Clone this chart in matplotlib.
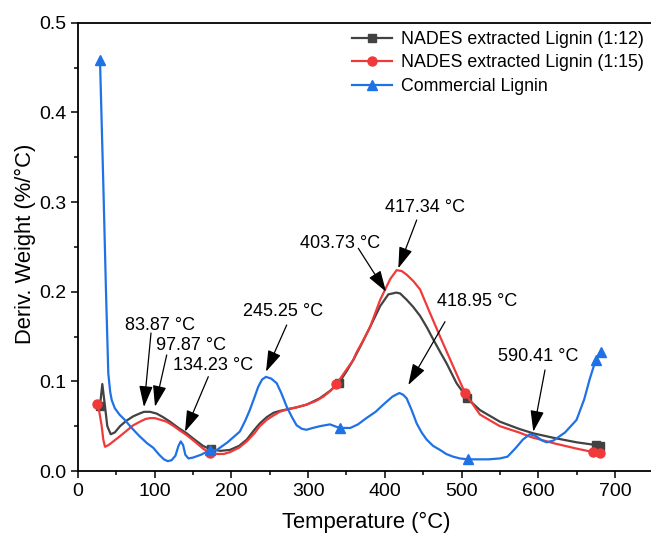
import numpy as np
import matplotlib
matplotlib.use("Agg")
import matplotlib.pyplot as plt

plt.rcParams['font.family'] = ['Liberation Sans', 'DejaVu Sans']

# ---------------- data ----------------
x_l12 = [28.7, 31.7, 35.2, 38.2, 42.6, 48, 54.8, 63, 72, 80, 86, 94, 102.6, 111, 120, 131, 141.7,
         152, 163, 173, 186, 198, 210, 220, 230, 237, 246, 255, 263, 274, 285, 298, 315, 328,
         340, 350, 359, 370, 381, 394, 404.6, 410, 415, 420, 428.5, 437, 446, 455, 463, 472,
         480.6, 493.5, 507.6, 524, 550, 575, 593.6, 620, 650, 675, 681]
y_l12 = [0.073, 0.097, 0.072, 0.050, 0.041, 0.043, 0.050, 0.056, 0.061, 0.064, 0.066, 0.066, 0.064,
         0.060, 0.055, 0.048, 0.042, 0.035, 0.028, 0.024, 0.0225, 0.0235, 0.028, 0.035, 0.046,
         0.053, 0.060, 0.065, 0.067, 0.069, 0.071, 0.074, 0.081, 0.089, 0.098, 0.111, 0.124,
         0.142, 0.161, 0.184, 0.197, 0.198, 0.199, 0.198, 0.191, 0.183, 0.173, 0.160, 0.147,
         0.133, 0.120, 0.098, 0.081, 0.068, 0.055, 0.047, 0.042, 0.037, 0.032, 0.029, 0.028]

x_l15 = [24.4, 28, 30.9, 33, 35.2, 40, 46, 55, 63.5, 72, 80.8, 88, 94, 100, 108, 115.6, 125, 133,
         141.7, 152, 163, 172, 180, 190, 198, 210, 220, 230, 237, 246, 255, 263, 274, 285, 298,
         310, 320, 330, 337, 350, 359, 363, 372, 381, 394, 407, 415.5, 422, 428.5, 437, 446,
         459, 472, 489, 504.6, 524, 550, 575, 590, 620, 650, 672, 680.6]
y_l15 = [0.075, 0.065, 0.050, 0.035, 0.027, 0.029, 0.033, 0.039, 0.045, 0.051, 0.055, 0.058, 0.059,
         0.059, 0.057, 0.055, 0.050, 0.045, 0.040, 0.033, 0.025, 0.020, 0.019, 0.019, 0.021,
         0.026, 0.033, 0.042, 0.050, 0.057, 0.062, 0.066, 0.069, 0.071, 0.074, 0.078, 0.083,
         0.090, 0.097, 0.113, 0.124, 0.132, 0.146, 0.161, 0.191, 0.214, 0.224, 0.223, 0.219,
         0.212, 0.2025, 0.176, 0.150, 0.117, 0.087, 0.063, 0.050, 0.043, 0.038, 0.031, 0.025,
         0.021, 0.020]

x_com = [28.7, 33, 36.5, 39.5, 42, 44, 48, 54, 61, 70, 80, 90, 98, 106, 112, 117, 122, 127, 131,
         134, 137, 140, 144, 150, 160, 172, 181, 195, 211, 218, 224, 230, 235, 240, 245, 252, 259,
         265, 272, 279, 285, 292, 298, 306, 315.5, 328.5, 341, 355, 365, 376, 388, 398, 410, 419,
         424, 428.5, 435, 441.6, 448, 454.6, 463, 472, 480, 489, 498, 508, 520, 535, 550, 560,
         570, 580, 589, 597, 605, 611, 620, 635, 650, 660, 667, 675, 681.5]
y_com = [0.458, 0.320, 0.200, 0.109, 0.088, 0.079, 0.070, 0.063, 0.057, 0.048, 0.039, 0.031, 0.026,
         0.018, 0.013, 0.011, 0.012, 0.017, 0.028, 0.033, 0.029, 0.018, 0.014, 0.015, 0.018,
         0.023, 0.0235, 0.032, 0.044, 0.056, 0.068, 0.082, 0.094, 0.102, 0.105, 0.103, 0.098,
         0.087, 0.072, 0.060, 0.051, 0.047, 0.046, 0.048, 0.050, 0.052, 0.048, 0.048, 0.052,
         0.059, 0.066, 0.074, 0.083, 0.087, 0.085, 0.081, 0.068, 0.053, 0.043, 0.035, 0.028,
         0.0235, 0.019, 0.016, 0.014, 0.013, 0.013, 0.013, 0.014, 0.016, 0.025, 0.035, 0.041,
         0.039, 0.034, 0.032, 0.034, 0.043, 0.057, 0.080, 0.102, 0.124, 0.133]

marks_l12 = [28.7, 173, 340, 507.6, 675, 681]
marks_l15 = [24.4, 172, 337, 504.6, 672, 680.6]
marks_com = [28.7, 172, 341, 508, 675, 681.5]

labels = ["NADES extracted Lignin (1:12)", "NADES extracted Lignin (1:15)", "Commercial Lignin"]

ann_text = ["83.87 °C", "97.87 °C", "134.23 °C", "245.25 °C",
            "403.73 °C", "417.34 °C", "418.95 °C", "590.41 °C"]

# ---------------- figure ----------------
W, H = 651, 535
fig = plt.figure(figsize=(W / 100, H / 100), dpi=100)
ax_left, ax_right, ax_top, ax_bot = 78, 660, 22.7, 471
ax = fig.add_axes([ax_left / W, (H - ax_bot) / H, (ax_right - ax_left) / W, (ax_bot - ax_top) / H])

def idx(xs, marks):
    xs = np.asarray(xs)
    return [int(np.argmin(np.abs(xs - m))) for m in marks]

c_gray, c_red, c_blue = '#424242', '#f03a3a', '#1f72e6'
ax.plot(x_l12, y_l12, color=c_gray, lw=1.6, marker='s', ms=6, markevery=idx(x_l12, marks_l12),
        label=labels[0], zorder=3)
ax.plot(x_l15, y_l15, color=c_red, lw=1.6, marker='o', ms=6.5, markevery=idx(x_l15, marks_l15),
        label=labels[1], zorder=4)
ax.plot(x_com, y_com, color=c_blue, lw=1.6, marker='^', ms=7, markevery=idx(x_com, marks_com),
        label=labels[2], zorder=5)

ax.set_xlim(0, (ax_right - ax_left) / 0.767)
ax.set_ylim(0, 0.5)
ax.set_xticks(np.arange(0, 701, 100))
ax.set_xticks(np.arange(50, 751, 100), minor=True)
ax.set_yticks(np.arange(0, 0.51, 0.1))
ax.set_yticks(np.arange(0.05, 0.5, 0.1), minor=True)
ax.yaxis.set_major_formatter(matplotlib.ticker.FormatStrFormatter('%.1f'))
ax.tick_params(which='major', direction='out', length=5, width=1.1, labelsize=14, colors='black')
ax.tick_params(which='minor', direction='out', length=3, width=1.1)
for s in ['left', 'bottom', 'top']:
    ax.spines[s].set_linewidth(1.3)
ax.spines['right'].set_visible(False)

axw, axh = ax_right - ax_left, ax_bot - ax_top
ax.set_xlabel("Temperature (°C)", fontsize=15.8)
ax.set_ylabel("Deriv. Weight (%/°C)", fontsize=15.8)
ax.xaxis.set_label_coords((366 - ax_left) / axw, (ax_bot - 522) / axh)
ax.xaxis.label.set_verticalalignment('center')
ax.yaxis.set_label_coords((25.5 - ax_left) / axw, (ax_bot - 244) / axh)
ax.yaxis.label.set_verticalalignment('center')

# annotations (pixel -> data helper)
def p2d(px, py):
    return ((px - ax_left) / 0.767, (ax_bot - py) / (axh / 0.5))

ann_pos = [  # text centre, arrow tail, arrow tip (pixels)
    ((160, 322), (151, 333), (144, 407)),
    ((191, 343), (166.7, 355), (155, 406.7)),
    ((213, 363), (208.3, 376.7), (185, 431.7)),
    ((283, 308), (286.7, 325), (266, 371.7)),
    ((340, 240), (358.3, 248.3), (386, 291.7)),
    ((425, 205), (416.7, 220), (398.3, 268.3)),
    ((476.7, 298.3), (445, 321.7), (408.3, 385)),
    ((538.3, 353.3), (545, 370), (533.3, 431.7)),
]
for t, (tc, tail, tip) in zip(ann_text, ann_pos):
    ax.text(*p2d(tc[0], tc[1] + 3), t, fontsize=13, ha='center', va='center', zorder=6)
    ax.annotate('', xy=p2d(*tip), xytext=p2d(*tail),
                arrowprops=dict(arrowstyle='-|>,head_length=1.3,head_width=0.42',
                                color='black', lw=0.9, shrinkA=0, shrinkB=0,
                                mutation_scale=10), zorder=6)

leg = fig.legend(loc='upper left', bbox_to_anchor=(352 / W, 1 - 31 / H), frameon=False,
                 fontsize=12.8, handlelength=2.25, handletextpad=0.5, labelspacing=0.36,
                 borderpad=0, borderaxespad=0)

fig.savefig("out.png", dpi=100)
